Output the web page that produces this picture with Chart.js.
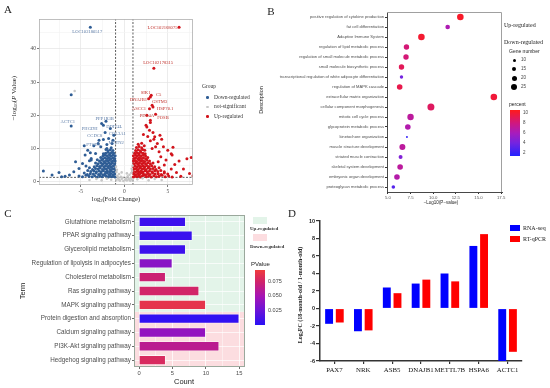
<!DOCTYPE html>
<html><head><meta charset="utf-8">
<script src="https://cdn.jsdelivr.net/npm/chart.js@4.4.1/dist/chart.umd.min.js"></script>
<style>
html,body{margin:0;padding:0;background:#fff;}
#wrap{position:relative;width:550px;height:388px;overflow:hidden;background:#fff;}
canvas{position:absolute;}
.t{position:absolute;white-space:nowrap;line-height:1;color:#222;}
.serif{font-family:"Liberation Serif","DejaVu Serif",serif;}
.sans{font-family:"Liberation Sans",Arial,sans-serif;}
.c{transform:translate(-50%,-50%);}
.l{transform:translateY(-50%);}
.rot{transform:translate(-50%,-50%) rotate(-90deg);}
sub{font-size:70%;vertical-align:-0.25em;line-height:0;}
.box{position:absolute;}
</style></head><body><div id="wrap">
<canvas id="cA" width="275" height="205" style="left:0;top:0"></canvas>
<canvas id="cB" width="295" height="210" style="left:255px;top:0"></canvas>
<canvas id="cC" width="250" height="188" style="left:0;top:200px"></canvas>
<canvas id="cD" width="275" height="194" style="left:275px;top:194px"></canvas>

<!-- panel letters -->
<div class="t serif c" style="left:8px;top:9px;font-size:11px">A</div>
<div class="t serif c" style="left:271px;top:11px;font-size:11px">B</div>
<div class="t serif c" style="left:8px;top:213px;font-size:11px">C</div>
<div class="t serif c" style="left:292px;top:213px;font-size:11px">D</div>

<!-- A titles & legend -->
<div class="t serif rot" style="left:14px;top:98px;font-size:7px">−log<sub>10</sub>(<i>P</i> Value)</div>
<div class="t serif c" style="left:116px;top:199px;font-size:6.5px">log<sub>2</sub>(Fold Change)</div>
<div class="t serif l" style="left:202px;top:87px;font-size:5.5px;color:#333">Group</div>
<div class="box" style="left:206px;top:96px;width:2.6px;height:2.6px;border-radius:50%;background:#2f5d95"></div>
<div class="t serif l" style="left:214px;top:97.5px;font-size:5.5px;color:#333">Down-regulated</div>
<div class="box" style="left:206px;top:105.5px;width:2.6px;height:2.6px;border-radius:50%;background:#c8c8c8"></div>
<div class="t serif l" style="left:214px;top:107px;font-size:5.5px;color:#333">not-significant</div>
<div class="box" style="left:206px;top:115px;width:2.6px;height:2.6px;border-radius:50%;background:#d2141c"></div>
<div class="t serif l" style="left:214px;top:116.5px;font-size:5.5px;color:#333">Up-regulated</div>

<!-- B titles & legend -->
<div class="t sans rot" style="left:262px;top:100px;font-size:5.5px">Description</div>
<div class="t sans c" style="left:441px;top:203px;font-size:4.5px">−Log10(P−value)</div>
<div class="t serif l" style="left:504px;top:25px;font-size:6px">Up-regulated</div>
<div class="t serif l" style="left:504px;top:42px;font-size:6px">Down-regulated</div>
<div class="t sans l" style="left:509px;top:51px;font-size:5px">Gene number</div>
<div id="bSizeLegend"></div>
<div class="t sans l" style="left:509px;top:104px;font-size:5px">percent</div>
<div id="bBar" class="box" style="left:510px;top:110px;width:10px;height:46px"></div>

<!-- C titles & legend -->
<div class="t sans rot" style="left:23px;top:291px;font-size:7.5px">Term</div>
<div class="t sans c" style="left:184px;top:382px;font-size:7.5px">Count</div>
<div class="box" style="left:253px;top:217px;width:14px;height:7px;background:#e3f4e9"></div>
<div class="t serif l" style="left:250px;top:228px;font-size:5px;font-weight:bold;color:#333">Up-regulated</div>
<div class="box" style="left:253px;top:234px;width:14px;height:7px;background:#fcdde0"></div>
<div class="t serif l" style="left:250px;top:246px;font-size:5px;font-weight:bold;color:#333">Down-regulated</div>
<div class="t sans l" style="left:251px;top:264px;font-size:6px">PValue</div>
<div id="cBar" class="box" style="left:255px;top:270px;width:10px;height:55px"></div>

<!-- D title & legend -->
<div class="t serif rot" style="left:300px;top:295px;font-size:6px;font-weight:bold">Log<sub>2</sub>FC (18-month-old / 1-month-old)</div>
<div class="box" style="left:510px;top:225px;width:10px;height:6px;background:#0000ff"></div>
<div class="t serif l" style="left:523px;top:228px;font-size:6px">RNA-seq</div>
<div class="box" style="left:510px;top:236px;width:10px;height:6px;background:#ff0000"></div>
<div class="t serif l" style="left:523px;top:239px;font-size:6px">RT-qPCR</div>
</div>
<script>
// ---------------- DATA ----------------
// Panel A: volcano plot points [log2FC, -log10 P]
const volcanoDown = [
[-1.05,1.4],[-1.25,1.7],[-1.45,1.5],[-1.65,1.8],[-1.85,1.4],[-2.05,1.6],[-2.3,1.9],[-2.55,1.5],[-2.8,1.7],[-3.1,1.4],[-3.4,1.8],[-3.7,1.5],[-4.05,1.6],[-4.4,1.9],[-4.8,1.5],[-5.2,1.7],
[-1.1,2.3],[-1.3,2.1],[-1.55,2.5],[-1.75,2.2],[-1.95,2.6],[-2.2,2.3],[-2.45,2.1],[-2.7,2.5],[-2.95,2.2],[-3.25,2.6],[-3.55,2.3],[-3.9,2.4],[-4.25,2.2],[-4.6,2.6],
[-1.05,3.1],[-1.3,2.9],[-1.5,3.3],[-1.7,3.0],[-1.95,3.2],[-2.15,2.9],[-2.4,3.3],[-2.65,3.0],[-2.9,3.2],[-3.2,3.0],[-3.5,3.3],[-3.85,3.1],[-4.2,3.4],
[-1.15,3.8],[-1.35,4.0],[-1.6,3.7],[-1.8,4.1],[-2.05,3.8],[-2.25,4.0],[-2.5,3.7],[-2.75,4.1],[-3.0,3.8],[-3.3,4.0],[-3.65,3.7],[-4.0,4.2],
[-1.05,4.6],[-1.25,4.8],[-1.5,4.5],[-1.7,4.9],[-1.9,4.6],[-2.15,4.8],[-2.35,4.5],[-2.6,4.9],[-2.85,4.6],[-3.15,4.8],[-3.45,4.5],
[-1.1,5.4],[-1.35,5.6],[-1.55,5.3],[-1.75,5.7],[-2.0,5.4],[-2.2,5.6],[-2.45,5.3],[-2.7,5.7],[-3.0,5.4],[-3.3,5.6],
[-1.05,6.2],[-1.25,6.4],[-1.45,6.1],[-1.7,6.5],[-1.9,6.2],[-2.1,6.4],[-2.35,6.1],[-2.6,6.5],[-2.85,6.2],[-3.1,6.6],
[-1.1,7.0],[-1.3,7.2],[-1.55,6.9],[-1.75,7.3],[-1.95,7.0],[-2.2,7.2],[-2.45,6.9],[-2.7,7.3],
[-1.05,7.8],[-1.3,8.0],[-1.5,7.7],[-1.7,8.1],[-1.95,7.8],[-2.2,8.0],[-2.45,7.7],
[-1.2,8.6],[-1.45,8.8],[-1.65,8.5],[-1.9,8.9],[-2.15,8.6],[-2.4,8.4],
[-1.3,9.4],[-1.6,9.6],[-1.85,9.3],[-2.1,9.7],[-1.5,10.2],[-2.0,10.0],
[-3.5,10.8],[-4.2,9.5],[-4.5,8.0],[-3.8,7.0],[-4.8,5.5],[-5.2,4.0],[-5.8,3.0],[-6.3,2.0],[-6.8,1.6],[-7.5,2.8],[-8.3,2.0],[-9.3,3.2],[-7.2,1.5],
[-5.6,6.0],[-4.0,6.3],[-3.3,8.5],[-2.7,10.5],[-2.9,12.5],[-2.4,12.7],[-2.2,14.8],[-1.8,13.0],[-2.6,17.5],[-2.4,17.0],[-2.1,18.2],[-1.6,16.0],
[-1.2,14.0],[-3.0,11.5],[-1.4,11.5],[-6.1,16.8],[-6.1,26.2],[-3.9,46.5],[-1.3,12.5],[-2.0,11.2],[-3.8,6.5],[-4.4,4.7],[-4.6,10.8],[-3.9,8.7]
];
const volcanoUp = [
[1.05,1.4],[1.25,1.7],[1.45,1.5],[1.65,1.8],[1.85,1.4],[2.05,1.6],[2.3,1.9],[2.55,1.5],[2.8,1.7],[3.1,1.4],[3.4,1.8],[3.7,1.5],[4.0,1.6],[4.35,1.9],[4.7,1.5],[5.1,1.7],[5.5,1.4],
[1.1,2.3],[1.3,2.1],[1.55,2.5],[1.75,2.2],[1.95,2.6],[2.2,2.3],[2.45,2.1],[2.7,2.5],[2.95,2.2],[3.25,2.6],[3.55,2.3],[3.9,2.4],[4.25,2.2],[4.6,2.6],[5.0,2.3],
[1.05,3.1],[1.3,2.9],[1.5,3.3],[1.7,3.0],[1.95,3.2],[2.15,2.9],[2.4,3.3],[2.65,3.0],[2.9,3.2],[3.2,3.0],[3.5,3.3],[3.85,3.1],[4.2,3.4],[4.6,3.0],
[1.15,3.8],[1.35,4.0],[1.6,3.7],[1.8,4.1],[2.05,3.8],[2.25,4.0],[2.5,3.7],[2.75,4.1],[3.0,3.8],[3.3,4.0],[3.65,3.7],[4.0,4.2],
[1.05,4.6],[1.25,4.8],[1.5,4.5],[1.7,4.9],[1.9,4.6],[2.15,4.8],[2.35,4.5],[2.6,4.9],[2.85,4.6],[3.15,4.8],[3.5,4.5],
[1.1,5.4],[1.35,5.6],[1.55,5.3],[1.75,5.7],[2.0,5.4],[2.2,5.6],[2.45,5.3],[2.7,5.7],[3.0,5.4],[3.3,5.6],
[1.05,6.2],[1.25,6.4],[1.45,6.1],[1.7,6.5],[1.9,6.2],[2.1,6.4],[2.35,6.1],[2.6,6.5],[2.9,6.2],
[1.1,7.0],[1.3,7.2],[1.55,6.9],[1.75,7.3],[1.95,7.0],[2.2,7.2],[2.45,6.9],[2.7,7.3],
[1.05,7.8],[1.3,8.0],[1.5,7.7],[1.7,8.1],[1.95,7.8],[2.2,8.0],[2.45,7.7],
[1.2,8.6],[1.45,8.8],[1.65,8.5],[1.9,8.9],[2.15,8.6],[2.4,8.4],
[1.3,9.4],[1.6,9.6],[1.85,9.3],[2.1,9.7],[2.35,9.5],
[1.4,10.3],[1.7,10.6],[2.0,10.2],[2.3,10.8],[1.6,11.3],[2.0,11.6],
[3.0,12.3],[3.4,12.8],[2.7,13.6],[2.2,14.2],[3.3,14.8],[2.9,15.5],[2.5,17.0],[3.0,17.8],[2.6,16.5],[3.6,10.5],[4.0,9.0],[4.5,10.5],
[4.2,7.5],[4.8,6.5],[5.5,8.0],[5.8,5.2],[6.3,6.2],[6.8,3.8],[7.2,6.9],[7.7,7.3],[7.5,2.5],[6.5,1.6],[5.4,3.8],[4.6,5.0],
[3.8,11.5],[4.3,12.8],[3.2,10.0],[3.9,6.0],[5.0,9.5],[6.0,2.8],[7.9,1.8],[5.6,10.4],[5.4,8.4],[3.5,13.5],[4.1,14.0],
[3.0,25.5],[2.8,25.0],[3.2,23.0],[3.3,22.5],[2.9,22.0],[3.6,20.3],[3.0,18.5],[3.4,34.2],[6.3,46.5],[2.6,20.0],[3.1,26.0]
];
const volcanoNS = [
[-0.9,0.5],[-0.7,1.0],[-0.5,0.3],[-0.3,0.8],[-0.1,0.2],[0.1,0.6],[0.3,0.4],[0.5,0.9],[0.7,0.3],[0.9,0.7],
[-0.8,1.8],[-0.6,2.3],[-0.4,1.5],[0.4,1.6],[0.6,2.1],[0.8,2.6],[-0.9,2.9],[0.9,3.2],[-0.85,3.6],[0.85,3.9],
[-0.2,1.2],[0.2,1.1],[-0.6,0.6],[0.6,0.5],[-1.5,0.6],[-2.0,0.9],[-2.6,0.4],[-3.2,0.8],[-4.0,0.5],[1.5,0.7],
[2.1,1.0],[2.8,0.4],[3.5,0.8],[4.3,0.5],[-5.7,27.3],[-0.95,4.5],[0.95,4.8],[-0.3,2.8],[0.3,2.5],[-0.75,1.4],[0.75,1.2]
];
const fcThreshold = 1;
const pThreshold = 1.3;
const volcanoXTicks = [-7.5,-5,-2.5,0,2.5,5,7.5];
const volcanoXLabels = [-5,0,5];
const volcanoYTicks = [0,5,10,15,20,25,30,35,40,45];
const volcanoYLabels = [0,10,20,30,40];
const downGeneNames = ['LOC102180517','ACTC1','PPP1R3B','PHGDH','DDIT4L','CCDC8','COL3A1','PTGES','MATN2'];
const downGeneX = [-4.25,-6.5,-2.25,-3.97,-1.15,-3.4,-0.8,-3.56,-0.92];
const downGeneY = [45.0,17.9,19.0,16.0,16.6,13.8,14.3,11.0,11.6];
const upGeneNames = ['LOC102168075','LOC102178315','SIK1','C5','DNAJB1','GSTM3','ASCC1','HSP70.1','PDE4A','FOSB'];
const upGeneX = [4.4,3.9,2.45,3.95,1.63,4.05,1.69,4.7,2.6,4.45];
const upGeneY = [46.5,35.7,26.8,26.3,24.6,24.1,22.1,21.9,19.9,19.3];

// Panel B: GO enrichment
const goTerms = ['positive regulation of cytokine production','fat cell differentiation','Adaptive Immune System','regulation of lipid metabolic process','regulation of small molecule metabolic process','small molecule biosynthetic process','transcriptional regulation of white adipocyte differentiation','regulation of MAPK cascade','extracellular matrix organization','cellular component morphogenesis','mitotic cell cycle process','glycoprotein metabolic process','kinetochore organization','muscle structure development','striated muscle contraction','skeletal system development','embryonic organ development','proteoglycan metabolic process'];
const goLogP = [13.0,11.6,8.7,7.05,7.0,6.5,6.5,6.3,16.7,9.75,7.5,7.2,7.1,6.6,6.4,6.35,6.0,5.6];
const goGeneNumber = [28,18,28,22,22,22,12,23,28,30,27,23,5,25,15,23,23,13];
const goPercent = [10.2,6.3,10.0,8.2,8.2,9.0,4.0,9.3,9.8,8.8,7.0,6.5,2.0,7.0,4.5,7.0,6.6,3.0];
const goXTicks = [5,7.5,10,12.5,15,17.5];
const geneNumberLegend = [10,15,20,25];
const percentLegend = [10,8,6,4,2];

// Panel C: KEGG
const keggTerms = ['Glutathione metabolism','PPAR signaling pathway','Glycerolipid metabolism','Regulation of lipolysis in adipocytes','Cholesterol metabolism','Ras signaling pathway','MAPK signaling pathway','Protein digestion and absorption','Calcium signaling pathway','PI3K-Akt signaling pathway','Hedgehog signaling pathway'];
const keggCount = [7,8,7,5,4,9,10,15,10,12,4];
const keggPValue = [0.007,0.006,0.007,0.038,0.072,0.076,0.088,0.003,0.042,0.062,0.080];
const keggUpCount = 7; // first 7 terms up-regulated, rest down-regulated
const keggXTicks = [0,2.5,5,7.5,10,12.5,15];
const keggXLabels = [0,5,10,15];
const pValueLegend = [0.075,0.050,0.025];

// Panel D: validation
const qGenes = ['PAX7','NRK','ASB5','DNAJB1','METTL7B','HSPA6','ACTC1'];
const rnaSeq = [-1.75,-2.6,2.4,2.85,4.0,7.15,-6.2];
const rtqPCR = [-1.6,-2.5,1.75,3.3,3.1,8.5,-4.95];

// ---------------- STYLE HELPERS ----------------
const SERIF = '"Liberation Serif","DejaVu Serif",serif';
const SANS = '"Liberation Sans",Arial,sans-serif';
Chart.defaults.font.family = SANS;
const pctStops = [[1.4,'#2323ff'],[4,'#7424e0'],[6,'#a81cbc'],[8,'#d0187e'],[10.6,'#ff1a1a']];
const pvStops = [[0,'#2a10f5'],[0.025,'#6a14d8'],[0.05,'#a614b4'],[0.075,'#d0246a'],[0.095,'#f03c3c']];
function hexToRgb(h){return [1,3,5].map(i=>parseInt(h.slice(i,i+2),16));}
function grad(stops,v){
  if(v<=stops[0][0]) return stops[0][1];
  for(let i=1;i<stops.length;i++){
    if(v<=stops[i][0]){
      const t=(v-stops[i-1][0])/(stops[i][0]-stops[i-1][0]);
      const a=hexToRgb(stops[i-1][1]), b=hexToRgb(stops[i][1]);
      return 'rgb('+a.map((c,k)=>Math.round(c+(b[k]-c)*t)).join(',')+')';
    }
  }
  return stops[stops.length-1][1];
}
function cssGrad(stops){
  const lo=stops[0][0], hi=stops[stops.length-1][0];
  return 'linear-gradient(to top,'+stops.map(s=>s[1]+' '+((s[0]-lo)/(hi-lo)*100).toFixed(1)+'%').join(',')+')';
}
const geneRadius = n => 0.5 + 0.1*n;
const base = {responsive:false, animation:false, devicePixelRatio:1, events:[],
  plugins:{legend:{display:false}, tooltip:{enabled:false}}};

// ---------------- PANEL A ----------------
const pts = a => a.map(p=>({x:p[0],y:p[1]}));
const frameA = {id:'frameA', afterDraw(chart){
  const {ctx, chartArea:a} = chart; ctx.save(); ctx.strokeStyle='#b0b0b0'; ctx.lineWidth=0.8;
  ctx.strokeRect(a.left+0.5,a.top+0.5,a.right-a.left-1,a.bottom-a.top-1); ctx.restore();}};
const geneLabelsA = {id:'geneLabelsA', afterDatasetsDraw(chart){
  const {ctx, scales:{x,y}} = chart; ctx.save();
  ctx.font = '4.6px '+SERIF; ctx.textAlign='center'; ctx.textBaseline='middle';
  ctx.fillStyle='#5a7aa6';
  downGeneNames.forEach((n,i)=>ctx.fillText(n, x.getPixelForValue(downGeneX[i]), y.getPixelForValue(downGeneY[i])));
  ctx.fillStyle='#c0302a';
  upGeneNames.forEach((n,i)=>ctx.fillText(n, x.getPixelForValue(upGeneX[i]), y.getPixelForValue(upGeneY[i])));
  ctx.restore();}};
const dash = (data)=>({data, showLine:true, borderColor:'#333', borderWidth:0.8, borderDash:[2,1.5], pointRadius:0, fill:false});
new Chart(document.getElementById('cA'), {
  type:'scatter',
  data:{datasets:[
    {data:pts(volcanoNS), backgroundColor:'#c8c8c8', pointRadius:1.3, pointBorderWidth:0},
    {data:pts(volcanoDown), backgroundColor:'#2f5d95', pointRadius:1.5, pointBorderWidth:0},
    {data:pts(volcanoUp), backgroundColor:'#d2141c', pointRadius:1.5, pointBorderWidth:0},
    dash([{x:-fcThreshold,y:-1},{x:-fcThreshold,y:49}]),
    dash([{x:fcThreshold,y:-1},{x:fcThreshold,y:49}]),
    dash([{x:-9.8,y:pThreshold},{x:7.9,y:pThreshold}])
  ]},
  options:{...base,
    layout:{padding:{left:0,top:19,right:82,bottom:0}},
    scales:{
      x:{type:'linear', min:-9.8, max:7.9,
        afterBuildTicks:s=>{s.ticks=volcanoXTicks.map(v=>({value:v}));},
        afterFit:s=>{s.height=20;},
        ticks:{autoSkip:false, maxRotation:0, padding:1, color:'#4d4d4d', font:{family:SERIF,size:5.5},
          callback:v=>volcanoXLabels.includes(v)?String(v):''},
        grid:{color:c=>c.tick&&volcanoXLabels.includes(c.tick.value)?'#e4e4e4':'#f3f3f3', lineWidth:0.7, tickLength:2,
          tickColor:c=>c.tick&&volcanoXLabels.includes(c.tick.value)?'#444':'rgba(0,0,0,0)'},
        border:{display:false}},
      y:{type:'linear', min:-1, max:49,
        afterBuildTicks:s=>{s.ticks=volcanoYTicks.map(v=>({value:v}));},
        afterFit:s=>{s.width=39;},
        ticks:{autoSkip:false, padding:1, color:'#4d4d4d', font:{family:SERIF,size:5.5},
          callback:v=>volcanoYLabels.includes(v)?String(v):''},
        grid:{color:c=>c.tick&&volcanoYLabels.includes(c.tick.value)?'#e4e4e4':'#f3f3f3', lineWidth:0.7, tickLength:2,
          tickColor:c=>c.tick&&volcanoYLabels.includes(c.tick.value)?'#444':'rgba(0,0,0,0)'},
        border:{display:false}}
    }},
  plugins:[frameA, geneLabelsA]
});

// ---------------- PANEL B ----------------
const frameB = {id:'frameB', afterDraw(chart){
  const {ctx, chartArea:a} = chart; ctx.save(); ctx.strokeStyle='#a0a0a0'; ctx.lineWidth=1;
  ctx.beginPath(); ctx.moveTo(a.left,a.top+0.5); ctx.lineTo(a.right-0.5,a.top+0.5); ctx.lineTo(a.right-0.5,a.bottom); ctx.stroke(); ctx.restore();}};
new Chart(document.getElementById('cB'), {
  type:'scatter',
  data:{labels:goTerms, datasets:[{
    data:goTerms.map((t,i)=>({x:goLogP[i], y:t})),
    pointRadius:c=>geneRadius(goGeneNumber[c.dataIndex]),
    backgroundColor:c=>grad(pctStops, goPercent[c.dataIndex]),
    pointBorderWidth:0}]},
  options:{...base,
    layout:{padding:{left:0,top:12,right:48,bottom:0}},
    scales:{
      x:{type:'linear', min:4.9, max:17.6,
        afterBuildTicks:s=>{s.ticks=goXTicks.map(v=>({value:v}));},
        afterFit:s=>{s.height=18;},
        ticks:{autoSkip:false, maxRotation:0, padding:1, color:'#555', font:{size:4.3}, callback:v=>v.toFixed(1)},
        grid:{drawOnChartArea:false, tickLength:2, tickColor:'#333'},
        border:{color:'#333', width:0.9}},
      y:{type:'category', labels:goTerms, offset:true,
        afterFit:s=>{s.width=132;},
        ticks:{autoSkip:false, padding:1, color:'#4d4d4d', font:{size:4.1}},
        grid:{drawOnChartArea:false, offset:false, tickLength:2, tickColor:'#333'},
        border:{color:'#333', width:0.9}}
    }},
  plugins:[frameB]
});
// B and C colour/size legends
(function(){
  const wrap=document.getElementById('wrap');
  const ys=[60,69,78,87];
  geneNumberLegend.forEach((n,i)=>{
    const r=geneRadius(n); const d=document.createElement('div'); d.className='box';
    d.style.cssText=`left:${514-r}px;top:${ys[i]-r}px;width:${2*r}px;height:${2*r}px;border-radius:50%;background:#000`;
    wrap.appendChild(d);
    const t=document.createElement('div'); t.className='t sans l'; t.style.cssText=`left:521px;top:${ys[i]}px;font-size:4.5px;color:#444`;
    t.textContent=n; wrap.appendChild(t);
  });
  document.getElementById('bBar').style.background=cssGrad(pctStops);
  const lo=pctStops[0][0], hi=pctStops[pctStops.length-1][0];
  percentLegend.forEach(v=>{
    const y=110+46*(hi-v)/(hi-lo);
    const t=document.createElement('div'); t.className='t sans l'; t.style.cssText=`left:523px;top:${y}px;font-size:4.5px;color:#444`;
    t.textContent=v; wrap.appendChild(t);
  });
  document.getElementById('cBar').style.background=cssGrad(pvStops);
  const plo=pvStops[0][0], phi=pvStops[pvStops.length-1][0];
  pValueLegend.forEach(v=>{
    const y=270+55*(phi-v)/(phi-plo);
    const t=document.createElement('div'); t.className='t sans l'; t.style.cssText=`left:268px;top:${y}px;font-size:5.5px;color:#444`;
    t.textContent=v.toFixed(3); wrap.appendChild(t);
  });
})();

// ---------------- PANEL C ----------------
const shadeC = {id:'shadeC', beforeDatasetsDraw(chart){
  const {ctx, chartArea:a, scales:{y}} = chart;
  const split = y.getPixelForValue(keggUpCount - 0.5);
  ctx.save();
  ctx.globalCompositeOperation='destination-over';
  ctx.fillStyle='#e3f4e9'; ctx.fillRect(a.left,a.top,a.right-a.left,split-a.top);
  ctx.fillStyle='#fcdde0'; ctx.fillRect(a.left,split,a.right-a.left,a.bottom-split);
  ctx.restore();},
  afterDraw(chart){const {ctx, chartArea:a}=chart; ctx.save(); ctx.strokeStyle='#9aa89c'; ctx.lineWidth=1;
  ctx.strokeRect(a.left+0.5,a.top+0.5,a.right-a.left-1,a.bottom-a.top-1); ctx.restore();}};
new Chart(document.getElementById('cC'), {
  type:'bar',
  data:{labels:keggTerms, datasets:[{data:keggCount,
    backgroundColor:keggPValue.map(p=>grad(pvStops,p)),
    borderColor:'rgba(255,255,255,0.7)', borderWidth:0.8,
    categoryPercentage:0.72, barPercentage:1}]},
  options:{...base, indexAxis:'y',
    layout:{padding:{left:0,top:15,right:5,bottom:0}},
    scales:{
      x:{type:'linear', min:-0.75, max:15.85,
        afterBuildTicks:s=>{s.ticks=keggXTicks.map(v=>({value:v}));},
        afterFit:s=>{s.height=21;},
        ticks:{autoSkip:false, maxRotation:0, padding:1, color:'#4d4d4d', font:{size:5.8},
          callback:v=>keggXLabels.includes(v)?String(v):''},
        grid:{color:c=>c.tick&&keggXLabels.includes(c.tick.value)?'rgba(255,255,255,0.95)':'rgba(255,255,255,0.55)', lineWidth:0.8, tickLength:2,
          tickColor:c=>c.tick&&keggXLabels.includes(c.tick.value)?'#444':'rgba(0,0,0,0)'},
        border:{display:false}},
      y:{type:'category', offset:true,
        afterFit:s=>{s.width=134;},
        ticks:{autoSkip:false, padding:1, color:'#4d4d4d', font:{size:6.3}},
        grid:{offset:false, color:'rgba(255,255,255,0.9)', lineWidth:0.8, tickLength:2, tickColor:'#444'},
        border:{display:false}}
    }},
  plugins:[shadeC]
});

// ---------------- PANEL D ----------------
new Chart(document.getElementById('cD'), {
  type:'bar',
  data:{labels:qGenes, datasets:[
    {label:'RNA-seq', data:rnaSeq, backgroundColor:'#0000ff', categoryPercentage:0.74, barPercentage:0.74},
    {label:'RT-qPCR', data:rtqPCR, backgroundColor:'#ff0000', categoryPercentage:0.74, barPercentage:0.74}]},
  options:{...base,
    layout:{padding:{left:0,top:27,right:28,bottom:0}},
    scales:{
      x:{type:'category', offset:true,
        afterFit:s=>{s.height=27;},
        ticks:{autoSkip:false, maxRotation:0, padding:2, color:'#111', font:{family:SERIF,size:6.8}},
        grid:{drawOnChartArea:false, offset:false, tickLength:3, tickColor:'#333', lineWidth:1.2},
        border:{color:'#333', width:1.5}},
      y:{type:'linear', min:-6, max:10,
        afterFit:s=>{s.width=45;},
        ticks:{stepSize:2, padding:1, color:'#222', font:{size:5.5, weight:'bold'}},
        grid:{drawOnChartArea:false, tickLength:4, tickColor:'#333', lineWidth:1.2},
        border:{color:'#333', width:1.5}}
    }}
});
</script>
</body></html>
